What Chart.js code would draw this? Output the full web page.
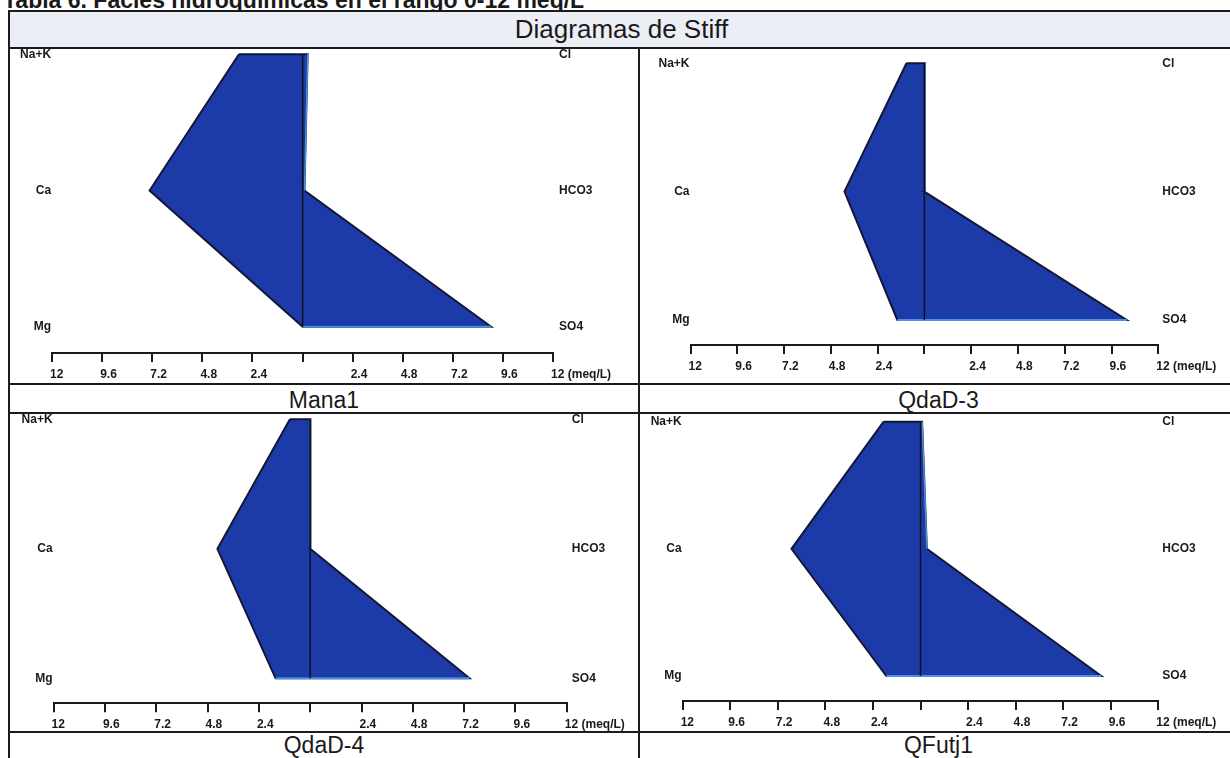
<!DOCTYPE html>
<html>
<head>
<meta charset="utf-8">
<title>Diagramas de Stiff</title>
<script src="https://cdn.jsdelivr.net/npm/chart.js@4.4.1/dist/chart.umd.min.js"></script>
<style>
  html, body { margin: 0; padding: 0; background: #fff; }
  body { position: relative; width: 1230px; height: 758px; overflow: hidden;
         font-family: Arial, "Liberation Sans", sans-serif; }
  .ln { position: absolute; background: #1b1b1b; }
  .txt { position: absolute; white-space: nowrap; color: #1a1a1a; }
  .site { position: absolute; text-align: center; font-size: 23px; line-height: 29px; height: 29px; color: #1a1a1a; }
  canvas { position: absolute; }
</style>
</head>
<body>

<div class="txt" style="left:3px; top:-11.5px; font-weight:bold; font-size:23px; line-height:23px;">Tabla 6. Facies hidroquímicas en el rango 0-12 meq/L</div>

<!-- tabla -->
<div style="position:absolute; left:10px; top:12px; width:1220px; height:35px; background:#eceef6;"></div>
<div class="ln" style="left:8px; top:10px; width:1222px; height:2px;"></div>
<div class="ln" style="left:8px; top:10px; width:2px; height:748px;"></div>
<div class="ln" style="left:8px; top:47px; width:1222px; height:2px;"></div>
<div class="ln" style="left:8px; top:383px; width:1222px; height:2px;"></div>
<div class="ln" style="left:8px; top:412px; width:1222px; height:2px;"></div>
<div class="ln" style="left:8px; top:731px; width:1222px; height:2px;"></div>
<div class="ln" style="left:638px; top:47px; width:2px; height:711px;"></div>

<div class="txt" style="left:0; width:1243px; top:16px; text-align:center; font-size:26px; line-height:26px;">Diagramas de Stiff</div>

<div id="labels"></div>

<script>
// muestras (orden: arriba izq, arriba der, abajo izq, abajo der)
const sites = ['Mana1', 'QdaD-3', 'QdaD-4', 'QFutj1'];

// iones
const cationNames = ['Na+K', 'Ca', 'Mg'];
const anionNames = ['Cl', 'HCO3', 'SO4'];

const naK  = [3.05, 0.92, 0.95, 1.86];
const ca   = [7.33, 4.10, 4.34, 6.51];
const mg   = [0.00, 1.39, 1.62, 1.72];
const cl   = [0.24, 0.02, 0.01, 0.08];
const hco3 = [0.09, 0.00, 0.00, 0.32];
const so4  = [9.03, 10.38, 7.45, 9.12];

// eje inferior
const tickValues = [-12, -9.6, -7.2, -4.8, -2.4, 0, 2.4, 4.8, 7.2, 9.6, 12];
const tickLabels = ['12', '9.6', '7.2', '4.8', '2.4', '', '2.4', '4.8', '7.2', '9.6', '12 (meq/L)'];

// posicion de cada diagrama dentro de la tabla (px)
const panelBoxes = [
    { chartLeft: 52.1,  chartRight: 553.1,  row0: 54.3,  row2: 326.7, axisY: 353,   rightPad: 6, labelLeft: 10,  labelTop: 386 },
    { chartLeft: 690.5, chartRight: 1158.3, row0: 63.3,  row2: 320,   axisY: 345,   rightPad: 4, labelLeft: 640, labelTop: 386 },
    { chartLeft: 53.6,  chartRight: 566.8,  row0: 419.3, row2: 678.3, axisY: 703.3, rightPad: 5, labelLeft: 10,  labelTop: 731 },
    { chartLeft: 682.7, chartRight: 1158.3, row0: 421.7, row2: 676,   axisY: 701,   rightPad: 4, labelLeft: 640, labelTop: 731 }
];

const FILL = '#1c3ba8';
const EDGE = '#131634';
const EDGE_LIGHT = '#4a93e4';
const INK = '#1a1a1a';
const Y_AXIS_W = 40;
const X_AXIS_H = 30;
const smallFont = { family: 'Arial, "Liberation Sans", sans-serif', size: 12, weight: 'bold' };

function buildPanel(i) {
    const box = panelBoxes[i];
    const spacing = (box.row2 - box.row0) / 2;

    // canvas mas grande que la celda, es transparente
    const cLeft = Math.round(box.chartLeft) - 50;
    const cTop = Math.round(box.row0) - 25;
    const cRight = Math.round(box.chartRight) + 85;
    const cBottom = Math.round(box.axisY) + 40;

    const canvas = document.createElement('canvas');
    canvas.width = cRight - cLeft;
    canvas.height = cBottom - cTop;
    canvas.style.left = cLeft + 'px';
    canvas.style.top = cTop + 'px';
    canvas.style.width = (cRight - cLeft) + 'px';
    canvas.style.height = (cBottom - cTop) + 'px';
    document.body.appendChild(canvas);

    const yMin = -5 / spacing;
    const yMax = 2 + (box.axisY - box.row2) / spacing;

    const polygon = [
        { x: -naK[i], y: 0 },
        { x: -ca[i],  y: 1 },
        { x: -mg[i],  y: 2 },
        { x: so4[i],  y: 2 },
        { x: hco3[i], y: 1 },
        { x: cl[i],   y: 0 },
        { x: -naK[i], y: 0 }
    ];

    const rowTicks = s => { s.ticks = [0, 1, 2].map(v => ({ value: v })); };

    new Chart(canvas.getContext('2d'), {
        type: 'scatter',
        data: {
            datasets: [
                {
                    data: polygon, showLine: true, fill: 'shape',
                    backgroundColor: FILL, borderColor: EDGE, borderWidth: 2,
                    pointRadius: 0, tension: 0, clip: false, order: 3
                },
                {
                    data: [{ x: -mg[i], y: 2 }, { x: so4[i], y: 2 }], showLine: true, fill: false,
                    borderColor: EDGE_LIGHT, borderWidth: 2, pointRadius: 0, clip: false, order: 2
                },
                {
                    data: [{ x: hco3[i], y: 1 }, { x: cl[i], y: 0 }], showLine: true, fill: false,
                    borderColor: EDGE_LIGHT, borderWidth: 1.5, pointRadius: 0, clip: false, order: 2
                },
                {
                    data: [{ x: 0, y: 0 }, { x: 0, y: 2 }], showLine: true, fill: false,
                    borderColor: '#0d0f22', borderWidth: 1.5, pointRadius: 0, clip: false, order: 1
                }
            ]
        },
        options: {
            responsive: false,
            animation: false,
            events: [],
            layout: {
                autoPadding: false,
                padding: {
                    left: box.chartLeft - cLeft - Y_AXIS_W,
                    right: cRight - box.chartRight - Y_AXIS_W,
                    top: (box.row0 - 5) - cTop,
                    bottom: cBottom - box.axisY - X_AXIS_H
                }
            },
            plugins: {
                legend: { display: false },
                tooltip: { enabled: false },
                title: { display: false }
            },
            scales: {
                x: {
                    type: 'linear', position: 'bottom', min: -12, max: 12,
                    afterBuildTicks: s => { s.ticks = tickValues.map(v => ({ value: v })); },
                    afterFit: s => { s.height = X_AXIS_H; },
                    grid: { drawOnChartArea: false, drawTicks: true, tickLength: 9,
                            color: INK, tickColor: INK, lineWidth: 2, tickWidth: 2 },
                    border: { display: true, color: INK, width: 2 },
                    ticks: {
                        autoSkip: false, maxRotation: 0, minRotation: 0,
                        align: 'start', padding: 5, labelOffset: -2,
                        font: smallFont, color: INK,
                        callback: (v, idx) => tickLabels[idx]
                    }
                },
                y: {
                    type: 'linear', position: 'left', reverse: true, min: yMin, max: yMax,
                    afterBuildTicks: rowTicks,
                    afterFit: s => { s.width = Y_AXIS_W; },
                    grid: { display: false, drawTicks: false },
                    border: { display: false },
                    ticks: { padding: 1, font: smallFont, color: INK, callback: v => cationNames[v] }
                },
                y2: {
                    type: 'linear', position: 'right', reverse: true, min: yMin, max: yMax,
                    afterBuildTicks: rowTicks,
                    afterFit: s => { s.width = Y_AXIS_W; },
                    grid: { display: false, drawTicks: false },
                    border: { display: false },
                    ticks: { padding: box.rightPad, font: smallFont, color: INK, callback: v => anionNames[v] }
                }
            }
        }
    });

    // nombre de la muestra en la fila de abajo
    const lab = document.createElement('div');
    lab.className = 'site';
    lab.style.left = box.labelLeft + 'px';
    lab.style.width = (box.labelLeft === 10 ? 628 : 597) + 'px';
    lab.style.top = box.labelTop + 'px';
    lab.textContent = sites[i];
    document.getElementById('labels').appendChild(lab);
}

for (let i = 0; i < sites.length; i++) {
    buildPanel(i);
}
</script>
</body>
</html>
